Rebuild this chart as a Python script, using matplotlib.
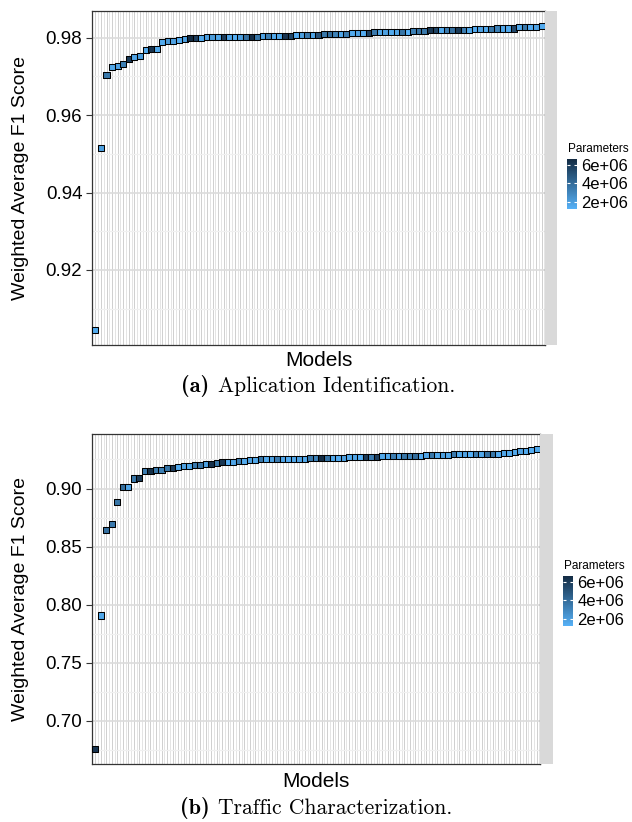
import numpy as np
import matplotlib
matplotlib.use("Agg")
import matplotlib.pyplot as plt
from matplotlib.colors import LinearSegmentedColormap, Normalize
from matplotlib.cm import ScalarMappable

# ---------------- data ----------------
app_f1 = [0.9045, 0.9516, 0.9704, 0.9725, 0.9726, 0.9732, 0.9746, 0.9750, 0.9753, 0.9768,
          0.9771, 0.9771, 0.9790, 0.9791, 0.9792, 0.9794, 0.9796, 0.9799, 0.9800, 0.9800,
          0.9801, 0.9801, 0.9801, 0.9801, 0.9802, 0.9802, 0.9802, 0.9803, 0.9803, 0.9803,
          0.9804, 0.9804, 0.9804, 0.9805, 0.9805, 0.9805, 0.9806, 0.9806, 0.9806, 0.9807,
          0.9808, 0.9810, 0.9811, 0.9811, 0.9811, 0.9811, 0.9812, 0.9812, 0.9812, 0.9813,
          0.9814, 0.9815, 0.9815, 0.9815, 0.9815, 0.9816, 0.9816, 0.9818, 0.9818, 0.9818,
          0.9819, 0.9820, 0.9820, 0.9820, 0.9820, 0.9820, 0.9820, 0.9821, 0.9822, 0.9822,
          0.9822, 0.9822, 0.9824, 0.9824, 0.9824, 0.9824, 0.9827, 0.9827, 0.9827, 0.9827,
          0.9830]
app_params = [1.5e6, 1.9e6, 3.5e6, 1.6e6, 1.8e6, 3.2e6, 6.0e6, 1.7e6, 2.0e6, 1.5e6,
              6.3e6, 1.6e6, 1.5e6, 2.2e6, 1.8e6, 1.4e6, 1.9e6, 6.6e6, 5.8e6, 1.5e6,
              1.9e6, 2.1e6, 1.6e6, 5.9e6, 1.7e6, 1.3e6, 2.0e6, 3.8e6, 6.5e6, 3.6e6,
              1.8e6, 3.3e6, 1.5e6, 1.6e6, 6.2e6, 5.5e6, 1.4e6, 1.9e6, 3.4e6, 1.7e6,
              5.0e6, 3.5e6, 3.9e6, 3.1e6, 1.6e6, 3.3e6, 1.5e6, 1.8e6, 1.4e6, 5.7e6,
              3.4e6, 1.6e6, 1.9e6, 1.5e6, 1.7e6, 3.6e6, 1.2e6, 3.2e6, 3.7e6, 3.5e6,
              6.1e6, 5.6e6, 1.5e6, 3.4e6, 3.8e6, 6.0e6, 3.3e6, 1.6e6, 1.4e6, 1.8e6,
              1.5e6, 3.6e6, 3.2e6, 1.7e6, 1.5e6, 5.4e6, 1.6e6, 3.5e6, 1.4e6, 1.8e6,
              1.5e6]

traffic_f1 = [0.6758, 0.7907, 0.8642, 0.8691, 0.8885, 0.9011, 0.9011, 0.9086, 0.9094, 0.9151,
              0.9151, 0.9160, 0.9160, 0.9177, 0.9177, 0.9185, 0.9197, 0.9197, 0.9206, 0.9206,
              0.9211, 0.9214, 0.9220, 0.9228, 0.9228, 0.9228, 0.9237, 0.9240, 0.9245, 0.9245,
              0.9252, 0.9252, 0.9252, 0.9252, 0.9252, 0.9252, 0.9252, 0.9252, 0.9252, 0.9262,
              0.9262, 0.9262, 0.9262, 0.9262, 0.9262, 0.9262, 0.9271, 0.9271, 0.9271, 0.9271,
              0.9271, 0.9271, 0.9280, 0.9280, 0.9280, 0.9280, 0.9280, 0.9280, 0.9280, 0.9280,
              0.9288, 0.9288, 0.9288, 0.9288, 0.9288, 0.9297, 0.9297, 0.9297, 0.9297, 0.9297,
              0.9297, 0.9297, 0.9297, 0.9297, 0.9305, 0.9305, 0.9314, 0.9322, 0.9322, 0.9331,
              0.9340]
traffic_params = [6.2e6, 1.6e6, 3.8e6, 3.4e6, 3.6e6, 3.9e6, 1.7e6, 3.5e6, 6.0e6, 3.3e6,
                  6.4e6, 3.5e6, 3.2e6, 3.6e6, 5.9e6, 1.5e6, 1.8e6, 1.6e6, 3.4e6, 3.7e6,
                  1.9e6, 6.3e6, 3.5e6, 6.1e6, 1.4e6, 1.7e6, 3.3e6, 1.5e6, 1.8e6, 1.6e6,
                  3.6e6, 1.5e6, 1.9e6, 3.4e6, 1.7e6, 1.4e6, 1.6e6, 1.8e6, 1.5e6, 3.5e6,
                  3.2e6, 6.6e6, 3.7e6, 1.6e6, 1.4e6, 1.9e6, 1.5e6, 1.7e6, 1.3e6, 6.0e6,
                  3.4e6, 5.8e6, 1.6e6, 1.5e6, 3.3e6, 1.8e6, 3.6e6, 3.2e6, 3.9e6, 1.4e6,
                  1.7e6, 3.5e6, 1.5e6, 1.9e6, 1.6e6, 3.4e6, 1.5e6, 1.8e6, 1.2e6, 3.3e6,
                  1.6e6, 3.7e6, 3.5e6, 1.4e6, 1.7e6, 1.5e6, 1.6e6, 1.8e6, 1.5e6, 1.4e6,
                  1.6e6]

app_yticks = [0.92, 0.94, 0.96, 0.98]
traffic_yticks = [0.70, 0.75, 0.80, 0.85, 0.90]
cbar_ticks = [2e6, 4e6, 6e6]
cbar_labels = ["2e+06", "4e+06", "6e+06"]

# ---------------- style ----------------
W, H = 632, 822
fig = plt.figure(figsize=(W / 100, H / 100), dpi=100)
cmap = LinearSegmentedColormap.from_list("params", ["#56B1F7", "#132B43"])
SANS = ["Liberation Sans", "DejaVu Sans"]


def fx(x):
    return x / W


def fy(y):
    return 1 - y / H


captions = []


def make_panel(left, right, top, bottom, f1, params, yticks, ytick_fmt,
               strip_w, cbar_x, cbar_top, cbar_bot, title_y, caption_tag, caption_text,
               models_y, caption_y):
    ax = fig.add_axes([fx(left), fy(bottom), fx(right - left), (bottom - top) / H])
    n = len(f1)
    x = np.arange(1, n + 1)
    ax.set_xlim(0.4, n + 0.6)
    lo, hi = min(f1), max(f1)
    pad = 0.05 * (hi - lo)

    ax.set_xticks(x)
    ax.set_xticks(np.arange(1.5, n, 1.0), minor=True)
    ax.tick_params(axis="x", which="both", length=0, labelbottom=False)
    ax.set_yticks(yticks)
    step = yticks[1] - yticks[0]
    ax.set_yticks(np.arange(yticks[0] - step / 2, yticks[-1] + step, step), minor=True)
    ax.set_yticklabels([ytick_fmt.format(v) for v in yticks], fontsize=13.5,
                       family=SANS, color="black")
    ax.tick_params(axis="y", which="major", length=4, width=0.8, color="#333333", pad=3)
    ax.tick_params(axis="y", which="minor", length=0)
    ax.set_ylim(lo - pad, hi + pad)

    ax.grid(True, axis="x", which="minor", color="#dddddd", lw=0.55)
    ax.grid(True, axis="x", which="major", color="#c2c2c2", lw=0.55)
    ax.grid(True, axis="y", which="minor", color="#f0f0f0", lw=0.9)
    ax.grid(True, axis="y", which="major", color="#dcdcdc", lw=1.2)
    ax.set_axisbelow(True)
    for s in ax.spines.values():
        s.set_color("#333333")
        s.set_linewidth(0.9)

    norm = Normalize(vmin=min(params), vmax=max(params))
    ax.scatter(x, f1, c=params, cmap=cmap, norm=norm, marker="s", s=19,
               edgecolors="black", linewidths=0.75, zorder=3, clip_on=False)

    ax.set_ylabel("Weighted Average F1 Score", fontsize=14, family=SANS)
    ax.yaxis.set_label_coords((29 - left) / (right - left), 0.5)

    # facet strip
    sax = fig.add_axes([fx(right), fy(bottom), fx(strip_w), (bottom - top) / H])
    sax.set_facecolor("#d9d9d9")
    sax.set_xticks([])
    sax.set_yticks([])
    for s in sax.spines.values():
        s.set_visible(False)

    # colorbar
    cax = fig.add_axes([fx(cbar_x), fy(cbar_bot), fx(10), (cbar_bot - cbar_top) / H])
    cb = fig.colorbar(ScalarMappable(norm=norm, cmap=cmap), cax=cax)
    cb.outline.set_visible(False)
    cb.set_ticks(cbar_ticks)
    cb.set_ticklabels(cbar_labels)
    cax.tick_params(axis="y", direction="in", colors="white", length=2, width=0.8,
                    left=True, right=True, pad=3)
    for t in cax.get_yticklabels():
        t.set_color("black")
        t.set_fontsize(12)
        t.set_family(SANS)
    fig.text(fx(cbar_x + 1), fy(title_y), "Parameters", fontsize=8.5, family=SANS,
             ha="left", va="center")

    fig.text(fx((left + right) / 2), fy(models_y), "Models", fontsize=15, family=SANS,
             ha="center", va="center")
    t1 = fig.text(0, fy(caption_y), caption_tag, fontsize=16,
                  family=["cmb10", "DejaVu Serif"], ha="left", va="center")
    t2 = fig.text(0, fy(caption_y), caption_text, fontsize=15.5,
                  family=["cmr10", "DejaVu Serif"], ha="left", va="center")
    captions.append((t1, t2, (left + right) / 2))


make_panel(92, 545, 11, 345, app_f1, app_params, app_yticks, "{:.2f}",
           12, 567, 159, 209, 149, "(a)", "Aplication Identification.", 360, 386)
make_panel(92, 540, 434, 764, traffic_f1, traffic_params, traffic_yticks,
           "{:.2f}", 13, 563, 576, 626, 566, "(b)",
           "Traffic Characterization.", 781, 808)

fig.canvas.draw()
r = fig.canvas.get_renderer()
gap = 9
for t1, t2, cx in captions:
    w1 = t1.get_window_extent(renderer=r).width
    w2 = t2.get_window_extent(renderer=r).width
    x0 = cx - (w1 + gap + w2) / 2
    t1.set_x(x0 / W)
    t2.set_x((x0 + w1 + gap) / W)

fig.savefig("out.png", dpi=100)
